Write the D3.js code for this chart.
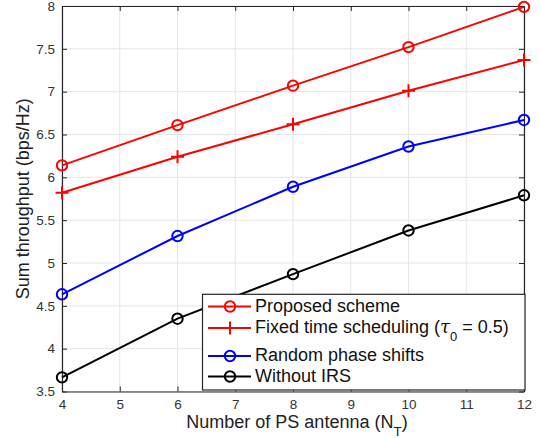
<!DOCTYPE html>
<html>
<head>
<meta charset="utf-8">
<script src="https://cdn.jsdelivr.net/npm/d3@7"></script>
<style>
  html, body { margin: 0; padding: 0; background: #fff; }
  svg { display: block; font-family: "Liberation Sans", Arial, Helvetica, sans-serif; }
</style>
</head>
<body>
<svg id="chart" width="539" height="438"></svg>
<script>
// Number of PS antennas
const antennas = [4, 6, 8, 10, 12];
// Sum throughput (bps/Hz) per scheme
const proposed = [6.14, 6.61, 7.07, 7.52, 7.99];
const fixedTime = [5.82, 6.24, 6.62, 7.01, 7.37];
const randomPhase = [4.635, 5.315, 5.89, 6.36, 6.67];
const withoutIRS = [3.665, 4.35, 4.87, 5.38, 5.79];
const xTicks = [4, 5, 6, 7, 8, 9, 10, 11, 12];
const yTicks = [3.5, 4, 4.5, 5, 5.5, 6, 6.5, 7, 7.5, 8];

const series = [
  { name: "Proposed scheme", values: proposed, color: "#ff0000", marker: "circle" },
  { name: "Fixed time scheduling", values: fixedTime, color: "#ff0000", marker: "plus" },
  { name: "Random phase shifts", values: randomPhase, color: "#0000ff", marker: "circle" },
  { name: "Without IRS", values: withoutIRS, color: "#000000", marker: "circle" }
];

const svg = d3.select("#chart");
const plotL = 62, plotR = 524, plotT = 6, plotB = 391.5;
const x = d3.scaleLinear().domain([4, 12]).range([plotL, plotR]);
const y = d3.scaleLinear().domain([3.5, 8]).range([plotB, plotT]);
const axisColor = "#262626";

// grid
const grid = svg.append("g");
grid.selectAll("line.gx").data(xTicks).join("line")
  .attr("x1", d => x(d)).attr("x2", d => x(d)).attr("y1", plotT).attr("y2", plotB)
  .attr("stroke", "#e5e5e5").attr("stroke-width", 1);
grid.selectAll("line.gy").data(yTicks).join("line")
  .attr("y1", d => y(d)).attr("y2", d => y(d)).attr("x1", plotL).attr("x2", plotR)
  .attr("stroke", "#e5e5e5").attr("stroke-width", 1);

// axes with inward ticks (box style)
const tickLen = 5;
const fmt = d => String(d);
const gx = svg.append("g").attr("transform", `translate(0,${plotB})`)
  .call(d3.axisBottom(x).tickValues(xTicks).tickFormat(fmt).tickSizeInner(-tickLen).tickSizeOuter(0).tickPadding(7.5));
const gxTop = svg.append("g").attr("transform", `translate(0,${plotT})`)
  .call(d3.axisTop(x).tickValues(xTicks).tickFormat("").tickSizeInner(-tickLen).tickSizeOuter(0));
const gy = svg.append("g").attr("transform", `translate(${plotL},0)`)
  .call(d3.axisLeft(y).tickValues(yTicks).tickFormat(fmt).tickSizeInner(-tickLen).tickSizeOuter(0).tickPadding(7));
const gyRight = svg.append("g").attr("transform", `translate(${plotR},0)`)
  .call(d3.axisRight(y).tickValues(yTicks).tickFormat("").tickSizeInner(-tickLen).tickSizeOuter(0));
[gx, gxTop, gy, gyRight].forEach(g => {
  g.select(".domain").attr("stroke", axisColor).attr("stroke-width", 1.2);
  g.selectAll(".tick line").attr("stroke", axisColor).attr("stroke-width", 1);
  g.selectAll(".tick text").attr("fill", "#333").attr("font-size", 13.5)
    .attr("font-family", "Liberation Sans, Arial, sans-serif");
});

// series lines and markers
const line = d3.line().x((d, i) => x(antennas[i])).y(d => y(d));
function drawMarker(g, type, cx, cy, color) {
  if (type === "circle") {
    g.append("circle").attr("cx", cx).attr("cy", cy).attr("r", 5.2)
      .attr("fill", "none").attr("stroke", color).attr("stroke-width", 2);
  } else {
    const h = 6.5;
    g.append("path").attr("d", `M${cx - h},${cy}H${cx + h}M${cx},${cy - h}V${cy + h}`)
      .attr("stroke", color).attr("stroke-width", 2).attr("fill", "none");
  }
}
series.forEach(s => {
  const g = svg.append("g");
  g.append("path").attr("d", line(s.values)).attr("fill", "none")
    .attr("stroke", s.color).attr("stroke-width", 2);
  s.values.forEach((v, i) => drawMarker(g, s.marker, x(antennas[i]), y(v), s.color));
});

// axis titles
svg.append("text").attr("x", 297).attr("y", 428).attr("text-anchor", "middle")
  .attr("font-size", 18).attr("fill", "#222")
  .call(t => {
    t.append("tspan").text("Number of PS antenna (N");
    t.append("tspan").attr("dy", 8).attr("font-size", 13.5).text("T");
    t.append("tspan").attr("dy", -8).text(")");
  });
svg.append("text").attr("transform", `translate(28.5,${(plotT + plotB) / 2}) rotate(-90)`)
  .attr("text-anchor", "middle").attr("font-size", 18).attr("fill", "#222")
  .text("Sum throughput (bps/Hz)");

// legend
const legend = svg.append("g");
legend.append("rect").attr("x", 202.5).attr("y", 294.3).attr("width", 322.5).attr("height", 95.7)
  .attr("fill", "#fff").attr("stroke", axisColor).attr("stroke-width", 1.2);
const rows = [306.5, 328, 356, 376.5];
series.forEach((s, i) => {
  const cy = rows[i];
  legend.append("line").attr("x1", 208).attr("x2", 251).attr("y1", cy).attr("y2", cy)
    .attr("stroke", s.color).attr("stroke-width", 2);
  drawMarker(legend, s.marker, 230, cy, s.color);
  const t = legend.append("text").attr("x", 255).attr("y", cy + 5.3)
    .attr("font-size", 18).attr("fill", "#111");
  if (i === 1) {
    t.append("tspan").text("Fixed time scheduling (");
    t.append("tspan").attr("font-style", "italic").attr("font-family", "DejaVu Serif, serif").text("τ");
    t.append("tspan").attr("dy", 8).attr("font-size", 13).text("0");
    t.append("tspan").attr("dy", -8).text(" = 0.5)");
  } else {
    t.text(s.name);
  }
});
</script>
</body>
</html>
